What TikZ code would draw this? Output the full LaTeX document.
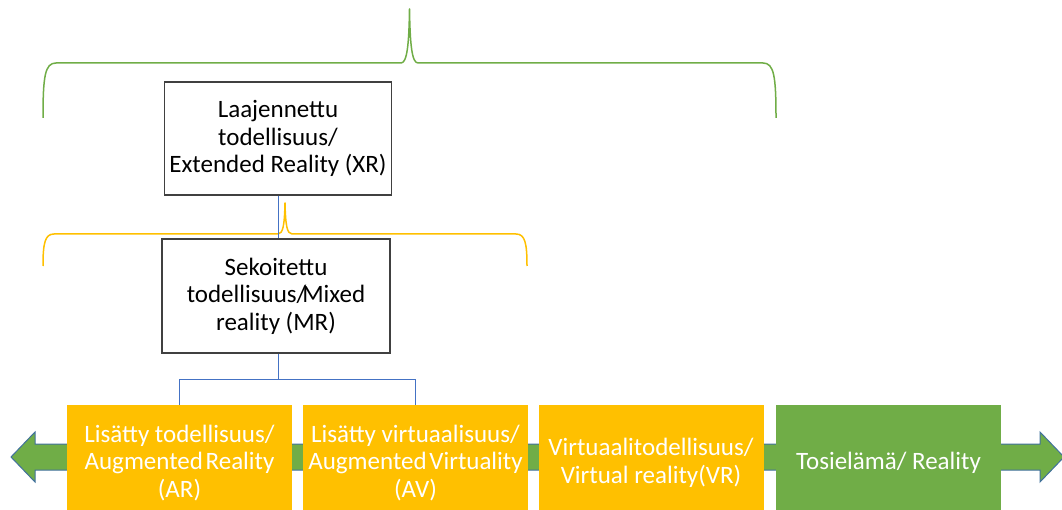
\documentclass[tikz,border=0pt]{standalone}
\usepackage{fontspec}
\setmainfont{Carlito}
\definecolor{xgreen}{HTML}{70AD47}
\definecolor{xyellow}{HTML}{FFC000}
\definecolor{xblue}{HTML}{4472C4}
\definecolor{xedge}{HTML}{41719C}
\definecolor{xframe}{HTML}{404040}
\tikzset{
  txt/.style={font=\fontsize{25}{27.5}\selectfont, align=center},
  whitebox/.style={txt, draw=xframe, line width=1.2pt, fill=white, text=black,
    minimum width=#1, minimum height=113pt, inner sep=0pt},
  stagebox/.style={txt, fill=#1, text=white, minimum width=225pt,
    minimum height=116pt, inner sep=0pt},
  brace/.style={draw=#1, line width=1.5pt, line join=round},
  link/.style={draw=xblue, line width=1pt},
}
\begin{document}
\begin{tikzpicture}[x=1pt, y=-1pt]
\useasboundingbox (0,0) rectangle (1062,510);
\clip (0,0) rectangle (1062,510);

% outer brace: extended reality
\path[brace=xgreen]
  (43,118) .. controls (43,76) and (45,63) .. (56,63) -- (401,63)
  .. controls (407,63) and (409,45) .. (409.5,9)
  .. controls (410,45) and (412,63) .. (418,63) -- (763,63)
  .. controls (774,63) and (776,76) .. (776,118);

% inner brace: mixed reality
\path[brace=xyellow]
  (43,266) .. controls (43,243) and (45,234) .. (54,234) -- (278,234)
  .. controls (283,234) and (284.5,225) .. (285,203)
  .. controls (285.5,225) and (287,234) .. (292,234) -- (516,234)
  .. controls (525,234) and (527,243) .. (527,266);

% double-headed axis arrow
\path[fill=xgreen, draw=xedge, line width=1pt]
  (11,457) -- (35,432) -- (35,444) -- (1040,444) -- (1040,432)
  -- (1064,457) -- (1040,482) -- (1040,470) -- (35,470) -- (35,482) -- cycle;

% hierarchy boxes
\node[whitebox=227pt] (xr) at (278,138.5)
  {Laajennettu\\todellisuus/\\Extended Reality (XR)};
\node[whitebox=228pt, minimum height=114pt] (mr) at (276,296)
  {Sekoitettu\\todellisuus/\kern-4pt Mixed\\reality (MR)};

% stages along the axis
\node[stagebox=xyellow] (ar) at (179.5,463)
  {Lisätty todellisuus/\\Augmented\kern-3pt\ Reality\\(AR)};
\node[stagebox=xyellow] (av) at (415.5,463)
  {Lisätty virtuaalisuus/\\Augmented\kern-3pt\ Virtuality\\(AV)};
\node[stagebox=xyellow] (vr) at (651,463)
  {Virtuaalitodellisuus/\\Virtual reality(VR)};
\node[stagebox=xgreen] (re) at (888.5,463)
  {Tosielämä/ Reality};

% connectors
\path[link] (xr.south -| 278,0) -- (mr.north -| 278,0);
\path[link] (mr.south -| 278,0) -- (278,379) -| (ar.north);
\path[link] (278,379) -| (av.north);
\end{tikzpicture}
\end{document}
